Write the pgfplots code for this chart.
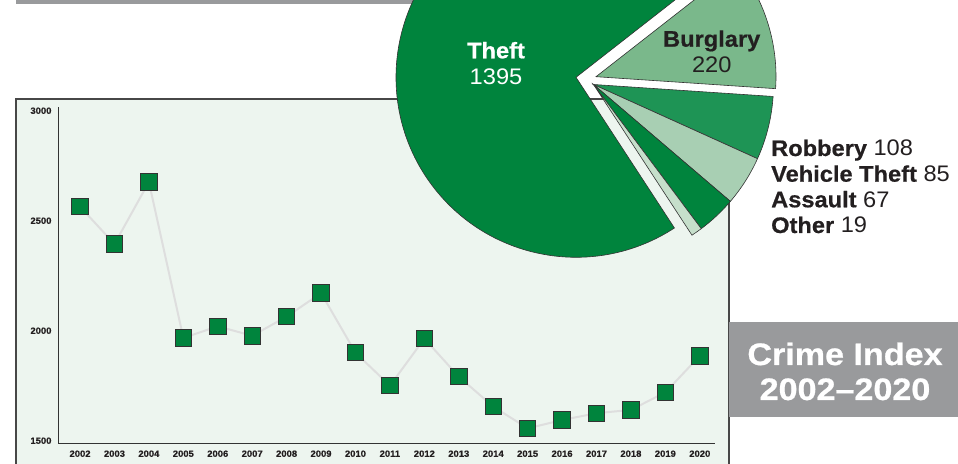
\documentclass[border=0pt]{standalone}
\usepackage{pgfplots}
\pgfplotsset{compat=1.18}
\usepackage{fontspec}
\setmainfont{Liberation Sans}
\newfontfamily\lblfont[FakeStretch=1.05, BoldFeatures={FakeBold=0.6}]{Liberation Sans}
\newfontfamily\ttlfont[FakeStretch=1.1, BoldFeatures={FakeBold=0.8}]{Liberation Sans}
\definecolor{gTheft}{HTML}{00843D}
\definecolor{gBurg}{HTML}{7AB88B}
\definecolor{gRob}{HTML}{1E9455}
\definecolor{gVeh}{HTML}{A8CFB3}
\definecolor{gAss}{HTML}{00843D}
\definecolor{gOth}{HTML}{C6DFCB}
\definecolor{panel}{HTML}{EDF5EF}
\definecolor{boxgray}{HTML}{999A9C}
\definecolor{ink}{HTML}{231F20}
\definecolor{edge}{HTML}{333333}
\definecolor{linegray}{HTML}{DEDEDE}

\def\vTheft{1395}
\def\vBurg{220}
\def\vRob{108}
\def\vVeh{85}
\def\vAss{67}
\def\vOth{19}

\pgfplotstableread{
year value
2002 2564
2003 2394
2004 2676
2005 1967
2006 2020
2007 1977
2008 2064
2009 2171
2010 1900
2011 1750
2012 1964
2013 1791
2014 1655
2015 1556
2016 1594
2017 1625
2018 1640
2019 1720
2020 1886
}\crimedata

\begin{document}
\begin{tikzpicture}
\pgfmathsetmacro\total{\vTheft+\vBurg+\vRob+\vVeh+\vAss+\vOth}
\pgfmathsetmacro\aA{38}
\pgfmathsetmacro\aB{\aA-\vBurg/\total*360}
\pgfmathsetmacro\aC{\aB-\vRob/\total*360}
\pgfmathsetmacro\aD{\aC-\vVeh/\total*360}
\pgfmathsetmacro\aE{\aD-\vAss/\total*360}
\pgfmathsetmacro\aF{\aE-\vOth/\total*360}
\pgfmathsetmacro\aT{\aA+\vTheft/\total*360}
\useasboundingbox (0,0) rectangle (958bp,464bp);
\clip (0,0) rectangle (958bp,464bp);
\begin{axis}[hide axis, scale only axis, width=958bp, height=464bp,
  xmin=0, xmax=958, ymin=0, ymax=464, at={(0,0)}, anchor=south west, clip=false]
  % top bar
  \fill[boxgray] (axis cs:16,460) rectangle (axis cs:520,470);
  % panel
  \filldraw[fill=panel, draw=edge!90, line width=1.3bp] (axis cs:16,-10) -- (axis cs:16,365) -- (axis cs:729,365) -- (axis cs:729,-10);
  % title box
  \fill[boxgray] (axis cs:729,47) rectangle (axis cs:965,142);
  \node[anchor=base, text=white, font=\ttlfont\bfseries\fontsize{31bp}{35bp}\selectfont] at (axis cs:845,99) {Crime Index};
  \node[anchor=base, text=white, font=\ttlfont\bfseries\fontsize{31bp}{35bp}\selectfont] at (axis cs:845,64) {2002\textendash 2020};
  % pie
  \filldraw[fill=gTheft, draw=edge, line width=0.6bp] (axis cs:576,386.7) -- ++(\aA:180bp) arc[start angle=\aA, end angle=\aT, radius=180bp] -- cycle;
  \filldraw[fill=gBurg, draw=edge, line width=0.6bp] (axis cs:596,387.3) -- ++(\aA:180bp) arc[start angle=\aA, end angle=\aB, radius=180bp] -- cycle;
  \filldraw[fill=gRob, draw=edge, line width=0.6bp] (axis cs:593.5,379.5) -- ++(\aB:180bp) arc[start angle=\aB, end angle=\aC, radius=180bp] -- cycle;
  \filldraw[fill=gVeh, draw=edge, line width=0.6bp] (axis cs:593.5,379.5) -- ++(\aC:180bp) arc[start angle=\aC, end angle=\aD, radius=180bp] -- cycle;
  \filldraw[fill=gAss, draw=edge, line width=0.6bp] (axis cs:593.5,379.5) -- ++(\aD:180bp) arc[start angle=\aD, end angle=\aE, radius=180bp] -- cycle;
  \filldraw[fill=gOth, draw=edge, line width=0.6bp] (axis cs:593.5,379.5) -- ++(\aE:180bp) arc[start angle=\aE, end angle=\aF, radius=180bp] -- cycle;
  % pie labels
  \node[anchor=base, text=white, font=\lblfont\bfseries\fontsize{22.5bp}{27bp}\selectfont] at (axis cs:496,405.7) {Theft};
  \node[anchor=base, text=white, font=\lblfont\fontsize{22.5bp}{27bp}\selectfont] at (axis cs:496,379.7) {\vTheft};
  \node[anchor=base, text=ink, font=\lblfont\bfseries\fontsize{22.5bp}{27bp}\selectfont] at (axis cs:711.7,417.3) {Burglary};
  \node[anchor=base, text=ink, font=\lblfont\fontsize{22.5bp}{27bp}\selectfont] at (axis cs:711.7,391.3) {\vBurg};
  \node[anchor=base west, inner sep=0pt, text=ink, font=\lblfont\fontsize{22.5bp}{27bp}\selectfont] at (axis cs:771,308) {\textbf{Robbery} \vRob};
  \node[anchor=base west, inner sep=0pt, text=ink, font=\lblfont\fontsize{22.5bp}{27bp}\selectfont] at (axis cs:771,282.3) {\textbf{Vehicle Theft} \vVeh};
  \node[anchor=base west, inner sep=0pt, text=ink, font=\lblfont\fontsize{22.5bp}{27bp}\selectfont] at (axis cs:771,256.7) {\textbf{Assault} \vAss};
  \node[anchor=base west, inner sep=0pt, text=ink, font=\lblfont\fontsize{22.5bp}{27bp}\selectfont] at (axis cs:771,231) {\textbf{Other} \vOth};
\end{axis}
\begin{axis}[scale only axis, width=657bp, height=336bp, at={(58bp,21bp)}, anchor=south west,
  xmin=2001.36, xmax=2020.44, ymin=1489.5, ymax=3017,
  axis lines=left, axis line style={-, draw=edge, line width=1bp},
  xtick={2002,...,2020}, ytick={1500,2000,2500,3000},
  major tick length=0pt,
  /pgf/number format/1000 sep={},
  /pgf/number format/assume math mode=true,
  tick label style={text=ink, font=\lblfont\bfseries\fontsize{9bp}{10bp}\selectfont},
  yticklabel style={xshift=-3bp},
  xticklabel style={yshift=-4bp},
  clip=false]
  \addplot[draw=linegray, line width=2bp, mark=square*, mark size=8.2bp,
    mark options={fill=gTheft, draw=edge, line width=0.9bp, solid}] table[x=year, y=value] {\crimedata};
\end{axis}
\end{tikzpicture}
\end{document}
